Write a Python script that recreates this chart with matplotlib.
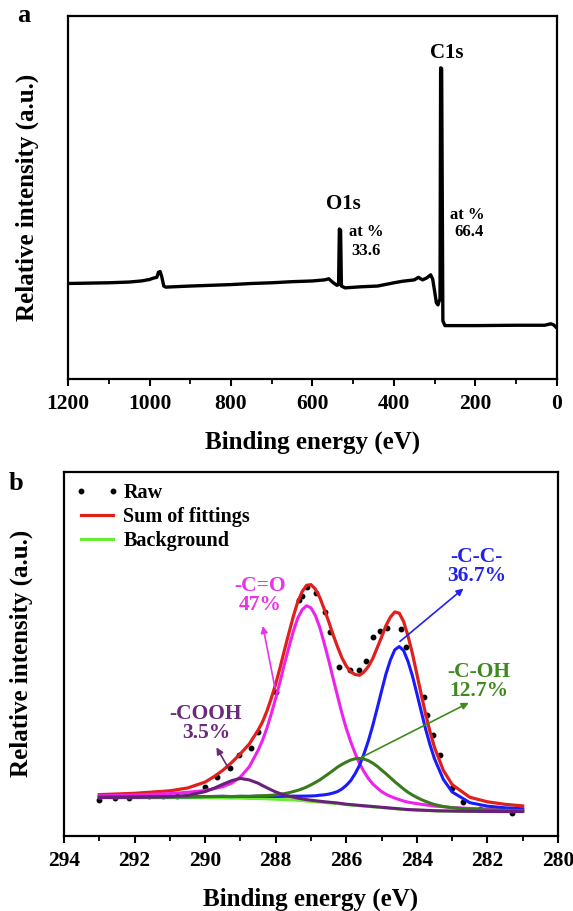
import numpy as np
import matplotlib
matplotlib.use("Agg")
import matplotlib.pyplot as plt
from matplotlib.ticker import MultipleLocator

plt.rcParams['font.family'] = ['Liberation Serif', 'DejaVu Serif']
plt.rcParams['font.weight'] = 'bold'

# ---- panel a: survey spectrum (binding energy, relative intensity) ----
survey_be = [1200, 1150, 1100, 1050, 1020, 1000, 990, 982, 978, 974, 970, 965, 960,
             900, 850, 800, 750, 700, 650, 600, 570, 560, 550, 540, 536, 534, 531,
             529, 520, 480, 440, 400, 380, 350, 340, 330, 320, 310, 305, 300, 296,
             292, 289, 287, 285.5, 283, 280, 275, 200, 100, 30, 15, 8, 0]
survey_int = [26.3, 26.4, 26.5, 26.7, 27.0, 27.4, 27.8, 28.0, 29.4, 29.6, 28.2, 25.6, 25.3,
              25.6, 25.8, 26.0, 26.3, 26.5, 26.8, 27.0, 27.3, 27.6, 26.6, 25.8, 26.0, 41.3, 41.0,
              25.6, 25.1, 25.4, 25.6, 26.5, 26.9, 27.3, 28.0, 27.3, 27.8, 28.7, 27.5, 24.0, 21.0,
              20.4, 21.5, 22.0, 85.7, 85.5, 16.0, 14.7, 14.7, 14.8, 14.8, 15.2, 14.9, 14.0]

# ---- panel b: C1s high resolution ----
be = [293, 292, 291, 290.5, 290, 289.75, 289.5, 289.25, 289, 288.75, 288.5,
      288.375, 288.25, 288.125, 288, 287.875, 287.75, 287.625, 287.5, 287.375,
      287.25, 287.125, 287, 286.875, 286.75, 286.625, 286.5, 286.375, 286.25,
      286.125, 286, 285.875, 285.75, 285.625, 285.5, 285.375, 285.25, 285.125,
      285, 284.875, 284.75, 284.625, 284.5, 284.375, 284.25, 284.125, 284,
      283.875, 283.75, 283.625,
      283.5, 283.25, 283, 282.5, 282, 281.5, 281]
background = [10.5, 10.5, 10.5, 10.5, 10.5, 10.5, 10.5, 10.4, 10.4, 10.3, 10.3,
              10.25, 10.2, 10.15, 10.1, 10.05, 10.0, 9.95, 9.9, 9.8,
              9.7, 9.6, 9.5, 9.4, 9.3, 9.2, 9.1, 9.0, 8.9,
              8.75, 8.6, 8.5, 8.4, 8.3, 8.2, 8.1, 8.0, 7.9,
              7.8, 7.7, 7.6, 7.5, 7.4, 7.3, 7.2, 7.15, 7.1,
              7.05, 7.0, 6.95,
              6.9, 6.85, 6.8, 6.75, 6.7, 6.7, 6.7]
c_o = [0.53, 0.76, 1.15, 1.5, 2.0, 2.5, 3.05, 4.1, 5.8, 8.7, 13.2,
       16.0, 19.4, 23.4, 27.7, 32.4, 37.3, 41.9, 46.3, 50.0,
       52.4, 53.6, 53.1, 51.1, 47.9, 43.7, 39.2, 34.3, 29.6,
       25.0, 20.9, 17.4, 14.3, 11.6, 9.5, 7.7, 6.3, 5.3,
       4.4, 3.75, 3.3, 2.9, 2.6, 2.3, 2.1, 1.93, 1.8,
       1.66, 1.55, 1.45,
       1.3, 1.2, 1.0, 0.83, 0.7, 0.57, 0.48]
c_c = [0.14, 0.18, 0.25, 0.28, 0.33, 0.36, 0.39, 0.42, 0.48, 0.54, 0.62,
       0.65, 0.69, 0.72, 0.76, 0.83, 0.89, 0.97, 1.05, 1.14,
       1.25, 1.36, 1.5, 1.65, 1.9, 2.1, 2.4, 2.8, 3.3,
       4.15, 5.3, 6.7, 8.7, 11.1, 14.3, 18.0, 22.3, 27.1,
       32.0, 36.8, 40.7, 43.6, 44.6, 43.6, 40.7, 36.8, 32.0,
       27.1, 22.3, 18.0,
       14.3, 8.7, 5.3, 2.4, 1.5, 1.05, 0.76]
c_oh = [0.11, 0.15, 0.21, 0.25, 0.31, 0.34, 0.39, 0.44, 0.51, 0.6, 0.72,
        0.8, 0.91, 1.04, 1.18, 1.39, 1.65, 1.94, 2.3, 2.73,
        3.25, 3.84, 4.55, 5.3, 6.1, 7.05, 8.0, 9.0, 10.0,
        10.9, 11.7, 12.35, 12.8, 13.0, 12.9, 12.6, 12.0, 11.25,
        10.3, 9.4, 8.4, 7.4, 6.5, 5.6, 4.8, 4.1, 3.5,
        2.95, 2.5, 2.1,
        1.75, 1.24, 0.96, 0.62, 0.45, 0.35, 0.29]
cooh = [0.08, 0.13, 0.3, 0.64, 1.67, 2.6, 3.7, 4.8, 5.4, 5.1, 4.2,
        3.6, 3.05, 2.5, 2.0, 1.6, 1.26, 0.97, 0.76, 0.61,
        0.48, 0.4, 0.33, 0.29, 0.25, 0.22, 0.2, 0.18, 0.17,
        0.15, 0.14, 0.13, 0.12, 0.12, 0.11, 0.11, 0.1, 0.1,
        0.09, 0.09, 0.08, 0.08, 0.07, 0.07, 0.07, 0.07, 0.06,
        0.06, 0.06, 0.06,
        0.05, 0.05, 0.05, 0.04, 0.04, 0.03, 0.03]

raw_be = [293.0, 292.55, 292.15, 291.6, 291.2, 290.8, 290.0, 289.65, 289.3, 289.05,
          288.7, 288.5, 288.0, 287.35, 287.25, 287.1, 286.85, 286.6, 286.45, 286.2,
          285.9, 285.65, 285.45, 285.25, 285.05, 284.85, 284.45, 284.3, 283.8, 283.7,
          283.55, 283.35, 283.0, 282.7, 282.2, 281.3]
raw_int = [9.9, 10.3, 10.3, 11.0, 11.0, 10.9, 13.5, 16.1, 18.6, 22.2,
           24.1, 28.6, 39.6, 64.8, 66.0, 68.4, 66.8, 61.6, 56.0, 46.5,
           45.6, 45.6, 48.0, 54.6, 56.2, 57.0, 56.8, 52.0, 38.2, 33.2,
           27.7, 22.2, 13.1, 9.4, 7.3, 6.2]

bg = np.array(background)
fit_sum = bg + np.array(c_o) + np.array(c_c) + np.array(c_oh) + np.array(cooh)

fig = plt.figure(figsize=(5.73, 9.11), dpi=100)
ax1 = fig.add_axes([0.1187, 0.584, 0.8533, 0.3985])
ax2 = fig.add_axes([0.1117, 0.0823, 0.8621, 0.40])

label_font = dict(fontsize=18, fontweight='bold')

# panel a
ax1.plot(survey_be, survey_int, color='black', lw=2.4)
ax1.set_xlim(1200, 0)
ax1.set_ylim(0, 100)
ax1.set_yticks([])
ax1.xaxis.set_major_locator(MultipleLocator(200))
ax1.xaxis.set_minor_locator(MultipleLocator(100))
ax1.set_xlabel('Binding energy (eV)', labelpad=12, **label_font)
ax1.set_ylabel('Relative intensity (a.u.)', **label_font)
ax1.yaxis.set_label_coords(-0.06, 0.5)
ax1.text(523, 48.2, 'O1s', ha='center', va='center', fontsize=15, fontweight='bold')
ax1.text(467, 40.5, 'at %', ha='center', va='center', fontsize=12, fontweight='bold')
ax1.text(469, 35.3, '33.6', ha='center', va='center', fontsize=12, fontweight='bold')
ax1.text(270, 89.8, 'C1s', ha='center', va='center', fontsize=15, fontweight='bold')
ax1.text(219, 45.2, 'at %', ha='center', va='center', fontsize=12, fontweight='bold')
ax1.text(217, 40.5, '66.4', ha='center', va='center', fontsize=12, fontweight='bold')
fig.text(0.03, 0.983, 'a', fontsize=19, fontweight='bold', va='center')

# panel b
ax2.plot(raw_be, raw_int, ls='none', marker='o', ms=3.2, color='black', label='Raw')
ax2.plot(be, fit_sum, color='#e0201b', lw=2.3, label='Sum of fittings')
ax2.plot(be, bg, color='#66ee33', lw=2.2, label='Background')
ax2.plot(be, bg + np.array(c_o), color='#ee22ee', lw=2.2)
ax2.plot(be, bg + np.array(c_c), color='#1a1aff', lw=2.2)
ax2.plot(be, bg + np.array(c_oh), color='#3b7a1c', lw=2.2)
ax2.plot(be, bg + np.array(cooh), color='#6a1f7a', lw=2.2)

ax2.set_xlim(294, 280)
ax2.set_ylim(0, 100)
ax2.set_yticks([])
ax2.xaxis.set_major_locator(MultipleLocator(2))
ax2.xaxis.set_minor_locator(MultipleLocator(1))
ax2.set_xlabel('Binding energy (eV)', labelpad=12, **label_font)
ax2.set_ylabel('Relative intensity (a.u.)', **label_font)
ax2.yaxis.set_label_coords(-0.062, 0.5)
fig.text(0.015, 0.469, 'b', fontsize=19, fontweight='bold', va='center')

ann = [
    ('-C=O\n47%', '#e833e8', (288.43, 66.1), (288.01, 40.1), (288.38, 58.4)),
    ('-C-C-\n36.7%', '#2222ee', (282.3, 73.9), (284.54, 52.9), (282.62, 68.4)),
    ('-C-OH\n12.7%', '#3f8a1f', (282.25, 42.4), (285.63, 21.3), (282.46, 36.9)),
    ('-COOH\n3.5%', '#6b2a7a', (289.98, 30.9), (289.31, 18.1), (289.72, 25.0)),
]
for txt, col, tpos, tail, head in ann:
    ax2.text(tpos[0], tpos[1], txt, color=col, ha='center', va='center',
             fontsize=15.5, fontweight='bold', linespacing=0.95)
    ax2.annotate('', xy=head, xytext=tail,
                 arrowprops=dict(arrowstyle='-|>', color=col, lw=1.2, mutation_scale=10))

leg = ax2.legend(loc='upper left', frameon=False, numpoints=2, handlelength=2.2,
                 handletextpad=0.2, labelspacing=0.2, borderaxespad=0.15,
                 prop=dict(size=14.5, weight='bold'))

for ax in (ax1, ax2):
    for s in ax.spines.values():
        s.set_linewidth(1.6)
    ax.tick_params(axis='x', which='major', direction='out', length=5, width=1.5,
                   labelsize=15.5, pad=6)
    ax.tick_params(axis='x', which='minor', direction='out', length=3.5, width=1.3)
    for lab in ax.get_xticklabels():
        lab.set_fontweight('bold')

fig.savefig('out.png', dpi=100)
